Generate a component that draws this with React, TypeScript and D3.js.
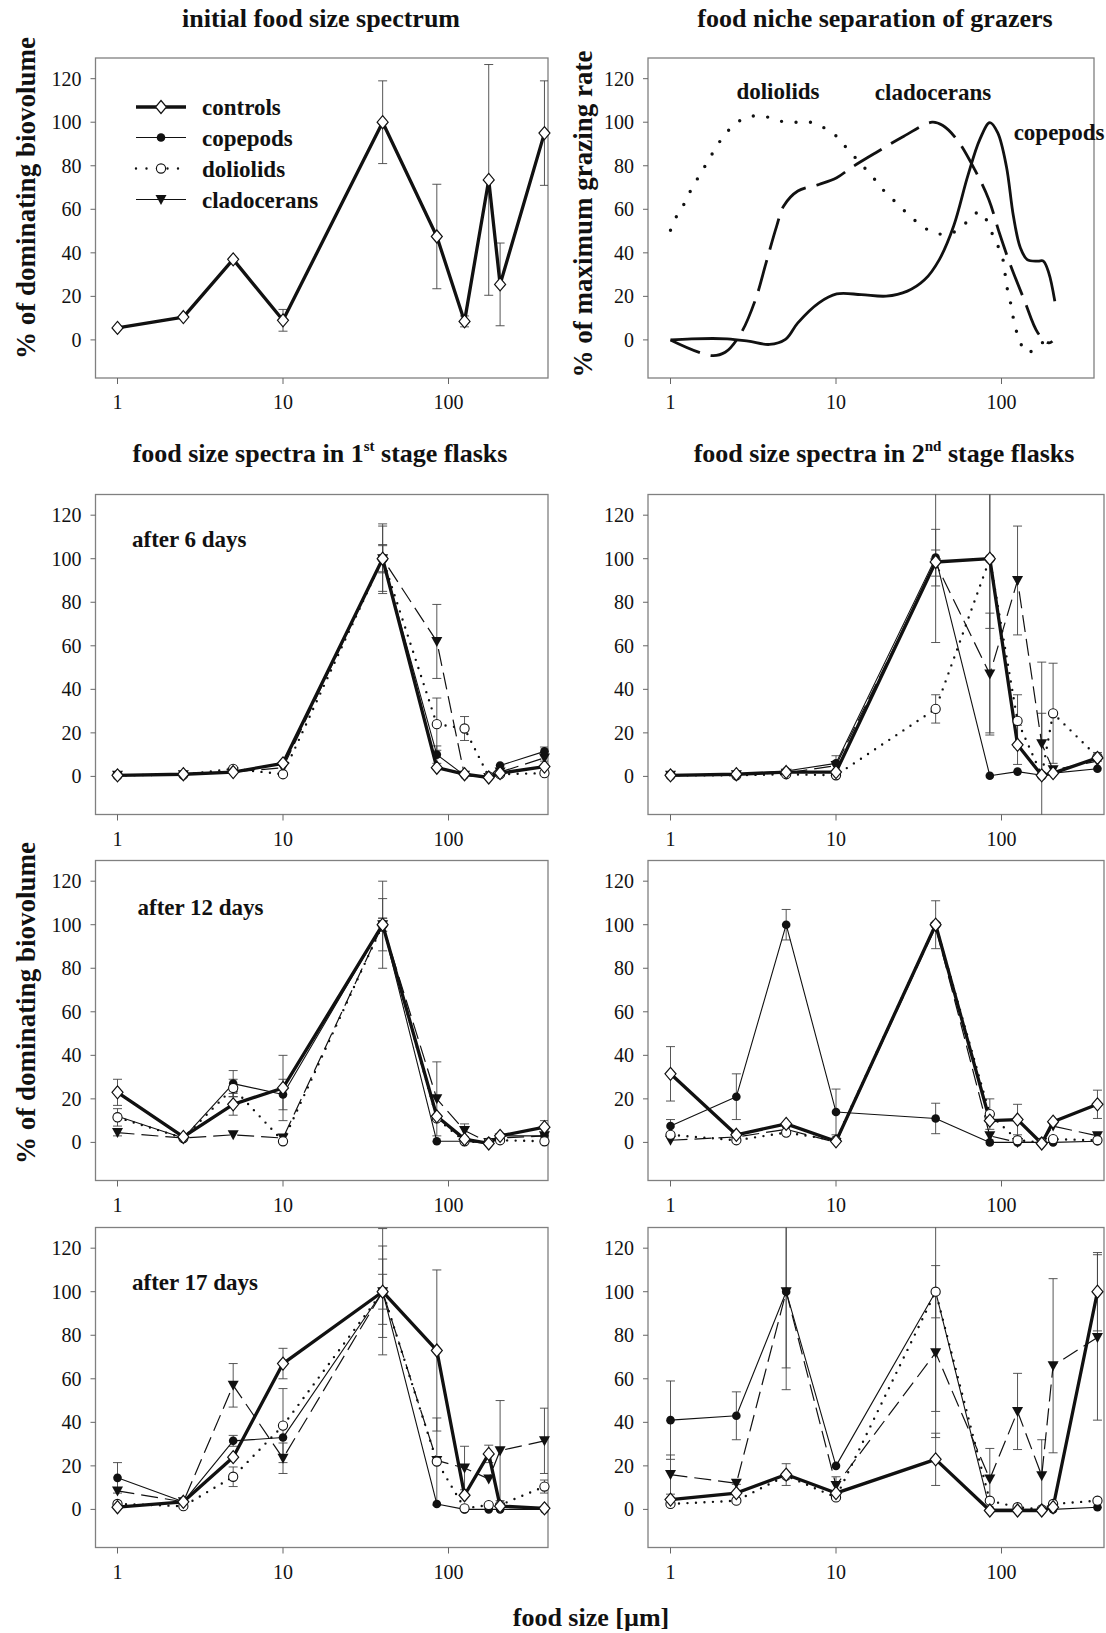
import React from 'react';
import * as d3 from 'd3';

// food size classes (µm) shared by every spectrum panel
const sizes = [1, 2.5, 5, 10, 40, 85, 125, 175, 205, 380];
const xTicks = [1, 10, 100];
const yTicks = [0, 20, 40, 60, 80, 100, 120];
const seriesNames = ['controls', 'copepods', 'doliolids', 'cladocerans'];

// initial food size spectrum
const initControls = [5.5, 10.5, 37, 9, 100, 47.5, 8.5, 73.5, 25.5, 95];
const initControlsErr = [0, 0, 0, 5, 19, 24, 2.5, 53, 19, 24];

// after 6 days, 1st stage
const d6aControls = [0.5, 1, 2, 6, 100, 4, 1, -0.5, 1.5, 4.5];
const d6aCopepods = [0.5, 1, 2, 6, 100, 10, 0.5, -0.5, 5, 11.5];
const d6aDoliolids = [0.5, 0.8, 3.5, 1, 100, 24, 22, 0, 1, 1.5];
const d6aCladocerans = [0.5, 0.8, 2, 4, 100, 62, 0.5, -0.5, 2, 8.5];
const d6aControlsErr = [0, 0, 0, 0, 15, 0, 0, 0, 0, 0];
const d6aCopepodsErr = [0, 0, 0, 0, 6.5, 4, 0, 0, 0, 2];
const d6aDoliolidsErr = [0, 0, 0, 0, 6, 12, 5.5, 0, 0, 0];
const d6aCladoceransErr = [0, 0, 0, 0, 16, 17, 0, 0, 0, 1.5];

// after 6 days, 2nd stage
const d6bControls = [0.5, 1, 2, 2, 98.5, 100, 14.5, 0.5, 1.5, 8.5];
const d6bCopepods = [0.5, 1, 2.5, 6, 100.5, 0.3, 2.2, 0.5, 1.5, 3.5];
const d6bDoliolids = [0.5, 0.5, 1, 0.5, 31, 100, 25.5, 0.5, 29, 9];
const d6bCladocerans = [0.5, 0.8, 1.5, 5, 98, 47, 90, 15, 3, 7];
const d6bControlsErr = [0, 0, 0, 0, 37, 32, 9, 0, 0, 0];
const d6bCopepodsErr = [0, 0, 0, 3.5, 13, 0, 0, 0, 0, 0];
const d6bDoliolidsErr = [0, 0, 0, 0, 6.5, 80, 12, 52, 23, 2];
const d6bCladoceransErr = [0, 0, 0, 0, 6, 28, 25, 14, 0, 0];

// after 12 days, 1st stage
const d12aControls = [23, 2.5, 17.5, 25, 100, 12, 1.5, -0.5, 3, 7];
const d12aCopepods = [12, 2, 27, 22, 100, 0.5, 0.5, -0.5, 3, 3];
const d12aDoliolids = [11.5, 2, 25, 0.5, 100, 11, 0.5, 0, 1, 0.5];
const d12aCladocerans = [4.5, 2, 3.5, 2, 100, 20, 5.5, 0, 2, 3];
const d12aControlsErr = [6, 0, 5, 15, 20, 0, 0, 0, 0, 3];
const d12aCopepodsErr = [0, 0, 6, 7, 12, 0, 0, 0, 0, 0];
const d12aDoliolidsErr = [4, 0, 4, 0, 3, 0, 0, 0, 0, 0];
const d12aCladoceransErr = [1.5, 0, 0, 0, 3, 17, 3, 0, 0, 0];

// after 12 days, 2nd stage
const d12bControls = [31.5, 3.5, 8.5, 0.5, 100, 10, 10.5, -0.5, 9.5, 17.5];
const d12bCopepods = [7.5, 21, 100, 14, 11, 0, 0, 0, 0, 0.5];
const d12bDoliolids = [3.5, 1, 4.5, 1, 100, 13, 1, 0, 1.5, 1];
const d12bCladocerans = [1, 2.5, 6, 0, 99, 3, 0, 0, 7.5, 3];
const d12bControlsErr = [12.5, 0, 0, 0, 11, 0, 7, 0, 0, 6.5];
const d12bCopepodsErr = [3, 10.5, 7, 10.5, 7, 0, 0, 0, 0, 0];
const d12bDoliolidsErr = [0, 0, 0, 0, 0, 7, 0, 0, 0, 0];
const d12bCladoceransErr = [0, 0, 0, 0, 0, 0, 0, 0, 0, 0];

// after 17 days, 1st stage
const d17aControls = [1, 3.5, 24, 67, 100, 73, 6.5, 25.5, 1.5, 0.5];
const d17aCopepods = [14.5, 3.5, 31.5, 33, 100, 2.5, 0, 0, 0, 0];
const d17aDoliolids = [2.5, 1.5, 15, 38.5, 100, 22, 0.5, 2, 2, 10.5];
const d17aCladocerans = [8.5, 3.5, 57, 23.5, 100, 22.5, 19, 14, 27, 31.5];
const d17aControlsErr = [0, 0, 0, 7, 29, 37, 0, 4, 0, 0];
const d17aCopepodsErr = [7, 0, 2.5, 0, 21, 0, 0, 0, 0, 0];
const d17aDoliolidsErr = [0, 0, 4.5, 17, 15, 20, 0, 0, 0, 3];
const d17aCladoceransErr = [0, 0, 10, 7, 8, 0, 10, 0, 23, 15];

// after 17 days, 2nd stage
const d17bControls = [4.5, 7.5, 16, 7.5, 23, -0.5, -0.5, -0.5, 1, 100];
const d17bCopepods = [41, 43, 100, 20, 100, 0, 0, 0, 0, 1];
const d17bDoliolids = [2.5, 4, 15.5, 5.5, 100, 4, 1, 0, 2.5, 4];
const d17bCladocerans = [16, 12, 100, 11, 72, 14, 45, 15.5, 66, 79];
const d17bControlsErr = [0, 4, 5, 0, 12, 0, 0, 0, 0, 18];
const d17bCopepodsErr = [18, 11, 45, 0, 67, 0, 0, 0, 0, 0];
const d17bDoliolidsErr = [0, 0, 0, 0, 12, 0, 0, 0, 0, 0];
const d17bCladoceransErr = [9, 0, 35, 4, 27, 14, 17.5, 16.5, 40, 38];

// grazing curves (food niche separation)
const dolSize = [1, 1.09, 1.22, 1.34, 1.5, 1.68, 1.89, 2.16, 2.6, 3.13, 3.78, 4.6, 5.6, 6.8, 8.2, 9.9, 11.7, 16.5, 19.4, 23.5, 28.4, 34.2, 41.7, 50.5, 61.1, 74.1, 90, 101, 104.5, 107, 112, 116, 121, 128, 143, 171, 203];
const dolRate = [50.4, 56.9, 63, 69.4, 75.7, 82, 88.6, 94.9, 100.5, 102.8, 102.5, 100.5, 100, 100.2, 98, 94, 87.8, 75.2, 68.7, 62.5, 56.5, 51.5, 48.7, 49.2, 53.8, 58.8, 47, 38.2, 32, 25.4, 19.3, 12.7, 6.3, 0, -6, -1.8, 0.5];
const cladSize = [1, 1.76, 2.14, 2.67, 3.26, 3.78, 4.38, 4.83, 5.88, 7.89, 10.1, 12.3, 17.4, 25.7, 38.1, 44.2, 53.7, 68.8, 83.8, 97, 112, 137, 166, 193, 203];
const cladRate = [0, -7.2, -5.7, 3.2, 18.5, 35.4, 52.3, 61.5, 68.4, 71.4, 74.5, 79, 86, 93.6, 100, 98.5, 92.1, 78.3, 64.5, 49.2, 35.4, 18.5, 3.2, -1.4, -0.6];
const copSize = [1, 1.34, 2.2, 2.95, 3.96, 4.95, 5.88, 7.89, 10.1, 14.2, 20.1, 27, 34.4, 42.1, 51.4, 62.5, 74, 85, 94.8, 107, 118, 130, 143, 166, 179, 193, 210];
const copRate = [0, 0.5, 0.5, -0.6, -2.1, 0.2, 7.8, 17, 21.1, 20.8, 20.1, 22.4, 27.7, 36.9, 52.3, 75.2, 92.1, 99.8, 95.2, 79.8, 56.9, 42.3, 36.9, 36.2, 36.2, 30.8, 17.8];

// layout
const W = 1106;
const H = 1633;
const DEC = 165.5; // pixels per decade
const LEFT = { x0: 95.5, x1: 548, one: 117.5 };
const RIGHT = { x0: 648, x1: 1104, one: 670.5 };
const TOPRIGHT = { x0: 648, x1: 1094, one: 670.5 };
const rowTops = [58, 494.5, 860.5, 1227.5];
const boxH = 320;
const yDomain = [-17.5, 129.5];
const FONT = "'Liberation Serif', 'Times New Roman', serif";

type Col = { x0: number; x1: number; one: number };

const makeX = (c: Col) =>
  d3
    .scaleLog()
    .domain([10 ** ((c.x0 - c.one) / DEC), 10 ** ((c.x1 - c.one) / DEC)])
    .range([c.x0, c.x1]);
const makeY = (top: number) =>
  d3.scaleLinear().domain(yDomain).range([top + boxH, top]);

const styles: Record<string, any> = {
  controls: { width: 3.3, dash: undefined, cap: 'butt', marker: 'diamond' },
  copepods: { width: 1.1, dash: undefined, cap: 'butt', marker: 'dot' },
  doliolids: { width: 2.4, dash: '0 8.5', cap: 'round', marker: 'circle' },
  cladocerans: { width: 1.2, dash: '17 7', cap: 'butt', marker: 'tri' },
};

const Marker = ({ kind, x, y }: { kind: string; x: number; y: number }) => {
  if (kind === 'diamond')
    return <path d={`M${x},${y - 6.5}L${x + 5.5},${y}L${x},${y + 6.5}L${x - 5.5},${y}Z`} fill="#fff" stroke="#111" strokeWidth={1.2} />;
  if (kind === 'dot') return <circle cx={x} cy={y} r={4.3} fill="#111" />;
  if (kind === 'circle') return <circle cx={x} cy={y} r={4.6} fill="#fff" stroke="#111" strokeWidth={1.1} />;
  return <path d={`M${x - 5.5},${y - 4.5}L${x + 5.5},${y - 4.5}L${x},${y + 5.5}Z`} fill="#111" />;
};

const Frame = ({ col, top, clipId }: { col: Col; top: number; clipId: string }) => {
  const x = makeX(col);
  const y = makeY(top);
  const bottom = top + boxH;
  return (
    <g>
      <clipPath id={clipId}>
        <rect x={col.x0} y={top} width={col.x1 - col.x0} height={boxH} />
      </clipPath>
      <rect x={col.x0} y={top} width={col.x1 - col.x0} height={boxH} fill="none" stroke="#808080" strokeWidth={1.3} />
      {xTicks.map((t) => (
        <g key={t}>
          <line x1={x(t)} x2={x(t)} y1={bottom} y2={bottom + 6} stroke="#666" strokeWidth={1} />
          <text x={x(t)} y={bottom + 31} textAnchor="middle" fontSize={20}>{t}</text>
        </g>
      ))}
      {yTicks.map((t) => (
        <g key={t}>
          <line x1={col.x0 - 5} x2={col.x0} y1={y(t)} y2={y(t)} stroke="#666" strokeWidth={1} />
          <text x={col.x0 - 14} y={y(t) + 7} textAnchor="end" fontSize={20}>{t}</text>
        </g>
      ))}
    </g>
  );
};

const SeriesMarks = ({ col, top, values, errs, clipId }: any) => {
  const x = makeX(col);
  const y = makeY(top);
  const line = d3.line<number>().x((_, i) => x(sizes[i])).y((v) => y(v));
  const order = [3, 2, 1, 0];
  return (
    <g>
      <g clipPath={`url(#${clipId})`}>
        {values.map((vals: number[], s: number) =>
          vals.map((v, i) => {
            const e = errs[s][i];
            if (!e) return null;
            const cx = x(sizes[i]);
            return (
              <g key={`${s}-${i}`} stroke="#444" strokeWidth={0.9}>
                <line x1={cx} x2={cx} y1={y(v + e)} y2={y(v - e)} />
                <line x1={cx - 4.5} x2={cx + 4.5} y1={y(v + e)} y2={y(v + e)} />
                <line x1={cx - 4.5} x2={cx + 4.5} y1={y(v - e)} y2={y(v - e)} />
              </g>
            );
          })
        )}
        {order.map((s) =>
          values[s] ? (
            <path
              key={s}
              d={line(values[s]) || ''}
              fill="none"
              stroke="#111"
              strokeWidth={styles[seriesNames[s]].width}
              strokeDasharray={styles[seriesNames[s]].dash}
              strokeLinecap={styles[seriesNames[s]].cap}
              strokeLinejoin="round"
            />
          ) : null
        )}
      </g>
      {[3, 1, 2, 0].map((s) =>
        values[s]
          ? values[s].map((v: number, i: number) => (
              <Marker key={`${s}-${i}`} kind={styles[seriesNames[s]].marker} x={x(sizes[i])} y={y(v)} />
            ))
          : null
      )}
    </g>
  );
};

const panelDefs = [
  { col: LEFT, row: 1, label: 'after 6 days', lx: 132, ly: 546.5,
    values: [d6aControls, d6aCopepods, d6aDoliolids, d6aCladocerans],
    errs: [d6aControlsErr, d6aCopepodsErr, d6aDoliolidsErr, d6aCladoceransErr] },
  { col: RIGHT, row: 1, label: '', lx: 0, ly: 0,
    values: [d6bControls, d6bCopepods, d6bDoliolids, d6bCladocerans],
    errs: [d6bControlsErr, d6bCopepodsErr, d6bDoliolidsErr, d6bCladoceransErr] },
  { col: LEFT, row: 2, label: 'after 12 days', lx: 137.5, ly: 915,
    values: [d12aControls, d12aCopepods, d12aDoliolids, d12aCladocerans],
    errs: [d12aControlsErr, d12aCopepodsErr, d12aDoliolidsErr, d12aCladoceransErr] },
  { col: RIGHT, row: 2, label: '', lx: 0, ly: 0,
    values: [d12bControls, d12bCopepods, d12bDoliolids, d12bCladocerans],
    errs: [d12bControlsErr, d12bCopepodsErr, d12bDoliolidsErr, d12bCladoceransErr] },
  { col: LEFT, row: 3, label: 'after 17 days', lx: 132, ly: 1290,
    values: [d17aControls, d17aCopepods, d17aDoliolids, d17aCladocerans],
    errs: [d17aControlsErr, d17aCopepodsErr, d17aDoliolidsErr, d17aCladoceransErr] },
  { col: RIGHT, row: 3, label: '', lx: 0, ly: 0,
    values: [d17bControls, d17bCopepods, d17bDoliolids, d17bCladocerans],
    errs: [d17bControlsErr, d17bCopepodsErr, d17bDoliolidsErr, d17bCladoceransErr] },
];

const NichePanel = () => {
  const x = makeX(TOPRIGHT);
  const y = makeY(rowTops[0]);
  const curve = (xs: number[], ys: number[]) =>
    d3
      .line<number>()
      .x((d) => x(d))
      .y((_, i) => y(ys[i]))
      .curve(d3.curveCatmullRom.alpha(0.5))(xs) || '';
  return (
    <g>
      <Frame col={TOPRIGHT} top={rowTops[0]} clipId="clip-niche" />
      <g clipPath="url(#clip-niche)" fill="none" stroke="#111">
        <path d={curve(dolSize, dolRate)} strokeWidth={3.4} strokeDasharray="0 14.5" strokeLinecap="round" />
        <path d={curve(cladSize, cladRate)} strokeWidth={2.8} strokeDasharray="32 11" />
        <path d={curve(copSize, copRate)} strokeWidth={2.8} />
      </g>
      <g fontWeight="bold" fontSize={23} textAnchor="middle">
        <text x={778} y={99}>doliolids</text>
        <text x={933} y={100}>cladocerans</text>
        <text x={1059} y={140}>copepods</text>
      </g>
    </g>
  );
};

const InitialPanel = () => {
  const legendY = [107, 137.5, 168.5, 199.5];
  return (
    <g>
      <Frame col={LEFT} top={rowTops[0]} clipId="clip-init" />
      <SeriesMarks col={LEFT} top={rowTops[0]} values={[initControls]} errs={[initControlsErr]} clipId="clip-init" />
      {seriesNames.map((name, i) => (
        <g key={name}>
          <line
            x1={136}
            x2={186}
            y1={legendY[i]}
            y2={legendY[i]}
            stroke="#111"
            strokeWidth={styles[name].width}
            strokeDasharray={name === 'doliolids' ? '0 10.5' : undefined}
            strokeLinecap={styles[name].cap}
          />
          <Marker kind={styles[name].marker} x={161} y={legendY[i]} />
          <text x={202} y={legendY[i] + 8} fontSize={23} fontWeight="bold">{name}</text>
        </g>
      ))}
    </g>
  );
};

export default function App() {
  return (
    <svg width={W} height={H} style={{ position: 'absolute', left: 0, top: 0, background: '#fff' }} fontFamily={FONT} fill="#111">
      <rect width={W} height={H} fill="#fff" />
      <g fontWeight="bold" fontSize={26} textAnchor="middle">
        <text x={321} y={27}>initial food size spectrum</text>
        <text x={875} y={27}>food niche separation of grazers</text>
        <text x={320} y={462}>
          food size spectra in 1<tspan fontSize={15} dy={-11}>st</tspan>
          <tspan dy={11}> stage flasks</tspan>
        </text>
        <text x={884} y={462}>
          food size spectra in 2<tspan fontSize={15} dy={-11}>nd</tspan>
          <tspan dy={11}> stage flasks</tspan>
        </text>
        <text x={591} y={1626}>food size [µm]</text>
      </g>
      <g fontWeight="bold" fontSize={27} textAnchor="middle">
        <text transform="translate(34.5,198) rotate(-90)">% of dominating biovolume</text>
        <text transform="translate(592,214) rotate(-90)">% of maximum grazing rate</text>
        <text transform="translate(34.5,1003) rotate(-90)">% of dominating biovolume</text>
      </g>
      <InitialPanel />
      <NichePanel />
      {panelDefs.map((p, k) => {
        const top = rowTops[p.row];
        const clipId = `clip-${k}`;
        return (
          <g key={k}>
            <Frame col={p.col} top={top} clipId={clipId} />
            <SeriesMarks col={p.col} top={top} values={p.values} errs={p.errs} clipId={clipId} />
            {p.label && (
              <text x={p.lx} y={p.ly} fontSize={23} fontWeight="bold">{p.label}</text>
            )}
          </g>
        );
      })}
    </svg>
  );
}
